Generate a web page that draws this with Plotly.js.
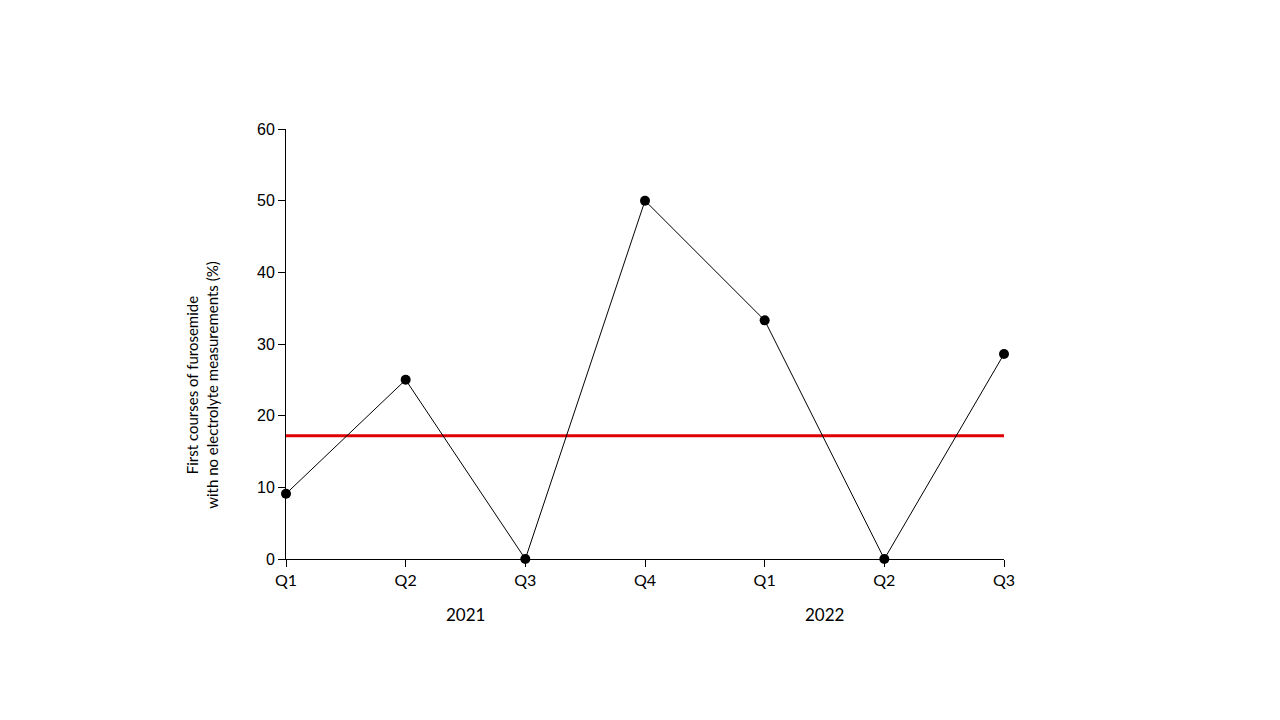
<!DOCTYPE html>
<html><head><meta charset="utf-8">
<script src="https://cdn.plot.ly/plotly-3.0.1.min.js"></script>
<style>body{margin:0;background:#fff}#c{width:1280px;height:720px}</style>
</head><body><div id="c"></div>
<script>
const quarters = ['Q1','Q2','Q3','Q4','Q1','Q2','Q3'];
const years = ['2021','2022'];
const yearCenters = [1.5, 4.5];
const percentNoElectrolytes = [9.1, 25, 0, 50, 33.3, 0, 28.6];
const meanLine = 17.2;
const yTitle = 'First courses of furosemide<br>with no electrolyte measurements (%)';
const xIdx = quarters.map((q,i)=>i);

const traces = [
  {x:[0, quarters.length-1], y:[meanLine, meanLine], mode:'lines', line:{color:'#e00000', width:3}, hoverinfo:'skip', cliponaxis:false},
  {x:xIdx, y:percentNoElectrolytes, mode:'lines+markers', line:{color:'#000', width:1},
   marker:{color:'#000', size:10}, cliponaxis:false}
];
const font2 = 'Lato, "Open Sans", sans-serif';
const layout = {
  width:1280, height:720, showlegend:false,
  paper_bgcolor:'#fff', plot_bgcolor:'#fff',
  margin:{l:286, r:276, t:129, b:161},
  xaxis:{range:[0,6], tickvals:xIdx, ticktext:quarters, showgrid:false, zeroline:false,
    showline:true, linecolor:'#000', linewidth:1, ticks:'outside', ticklen:7, tickcolor:'#000',
    tickfont:{family:font2, size:16, color:'#000'}, fixedrange:true},
  yaxis:{range:[0,60], dtick:10, showgrid:false, zeroline:false,
    showline:true, linecolor:'#000', linewidth:1, ticks:'outside', ticklen:7, tickcolor:'#000',
    tickfont:{family:'"Liberation Sans", Arial, sans-serif', size:16, color:'#000'}},
  annotations: years.map((y,i)=>({x:yearCenters[i], xref:'x', y:-0.13, yref:'paper', text:y,
    showarrow:false, yanchor:'middle', font:{family:font2, size:17, color:'#000'}})).concat([
    {x:-0.117, xref:'paper', y:0.405, yref:'paper', text:yTitle, textangle:-90, showarrow:false,
     xanchor:'center', yanchor:'middle', font:{family:font2, size:15, color:'#000'}}
  ])
};
Plotly.newPlot('c', traces, layout, {displayModeBar:false, staticPlot:true});
</script></body></html>
